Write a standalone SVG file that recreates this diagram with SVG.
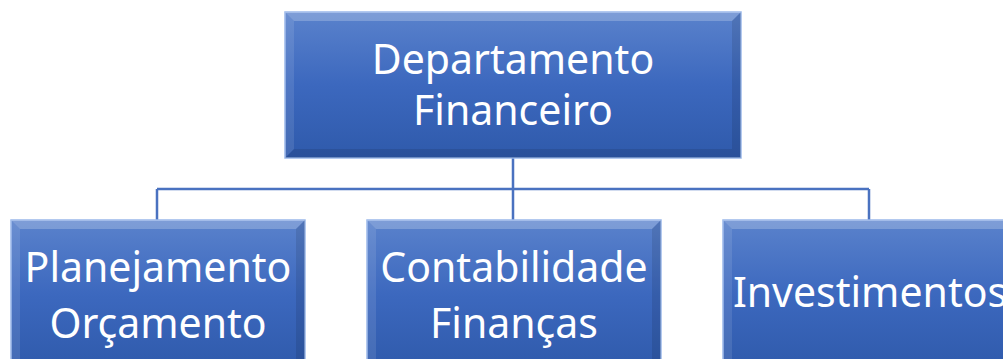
<svg xmlns="http://www.w3.org/2000/svg" width="1003" height="359" viewBox="0 0 1003 359">
<style>
.box{fill:url(#g);stroke:#9ab8ea;stroke-width:1.5}
.hl{fill:#ffffff;opacity:0.22}
.sl{fill:#ffffff;opacity:0.10}
.sd{fill:#000000;opacity:0.10}
.t{font-family:"Noto Sans","Open Sans",sans-serif;font-size:41px;fill:#ffffff;text-anchor:middle}
.c{fill:none;stroke:#4a72c0;stroke-width:2.5}
</style>
<defs>
<linearGradient id="g" x1="0" y1="0" x2="0" y2="1">
<stop offset="0" stop-color="#5a82cc"/>
<stop offset="0.5" stop-color="#3c68be"/>
<stop offset="1" stop-color="#2f5aab"/>
</linearGradient>
</defs>
<rect width="1003" height="359" fill="#ffffff"/>
<g id="connectors">
<path class="c" d="M513 158V189M157 189H869M157 189V220M513 189V220M869 189V220"/>
</g>
<g id="n0">
<rect class="box" x="285" y="12" width="456" height="146"/>
<polygon class="hl" points="285,12 741,12 732,21 294,21"/>
<polygon class="sl" points="285,12 294,21 294,149 285,158"/>
<polygon class="sd" points="285,158 294,149 732,149 741,158"/>
<polygon class="sd" points="741,12 741,158 732,149 732,21"/>
<text class="t" x="513" y="74">Departamento</text>
<text class="t" x="513" y="125">Financeiro</text>
</g>
<g id="n1">
<rect class="box" x="11" y="220" width="294" height="150"/>
<polygon class="hl" points="11,220 305,220 296,229 20,229"/>
<polygon class="sl" points="11,220 20,229 20,370 11,370"/>
<polygon class="sd" points="305,220 305,370 296,370 296,229"/>
<text class="t" x="158" y="282">Planejamento</text>
<text class="t" x="158" y="338">Orçamento</text>
</g>
<g id="n2">
<rect class="box" x="367" y="220" width="294" height="150"/>
<polygon class="hl" points="367,220 661,220 652,229 376,229"/>
<polygon class="sl" points="367,220 376,229 376,370 367,370"/>
<polygon class="sd" points="661,220 661,370 652,370 652,229"/>
<text class="t" x="514" y="282">Contabilidade</text>
<text class="t" x="514" y="338">Finanças</text>
</g>
<g id="n3">
<rect class="box" x="723" y="220" width="294" height="150"/>
<polygon class="hl" points="723,220 1017,220 1008,229 732,229"/>
<polygon class="sl" points="723,220 732,229 732,370 723,370"/>
<text class="t" x="870" y="307">Investimentos</text>
</g>
</svg>
